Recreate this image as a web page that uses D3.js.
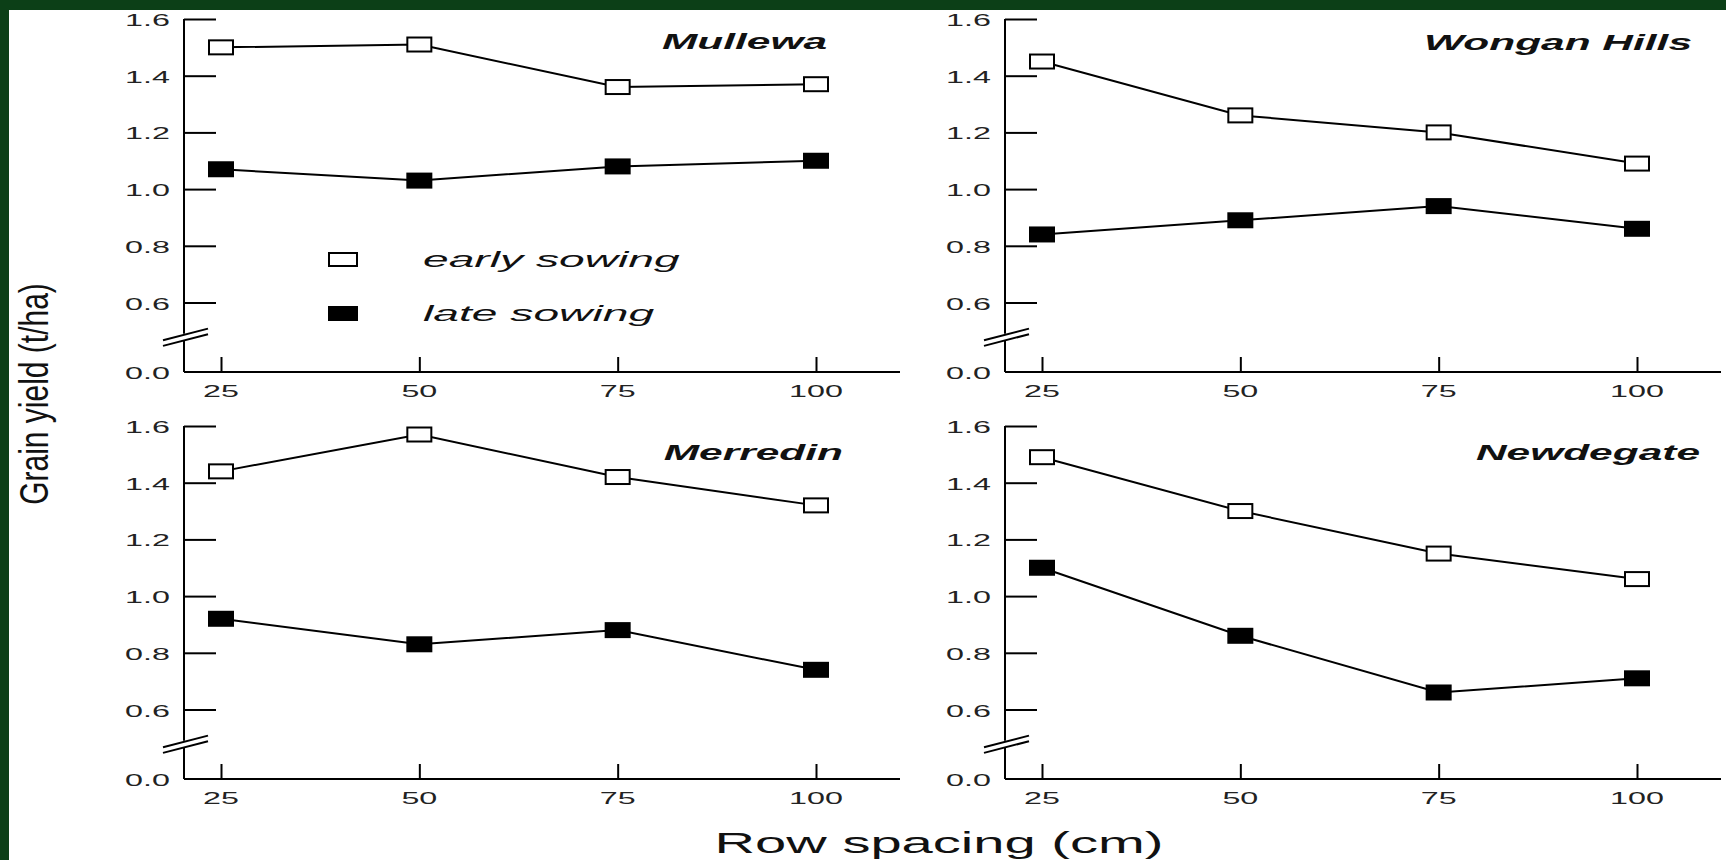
<!DOCTYPE html>
<html>
<head>
<meta charset="utf-8">
<script src="https://cdn.jsdelivr.net/npm/d3@7"></script>
<style>
  html, body { margin: 0; padding: 0; background: #0c3f17; }
  svg { display: block; }
  text { font-family: "Liberation Sans", Arial, sans-serif; }
</style>
</head>
<body>
<svg id="chart" width="1726" height="860"></svg>
<script>
// Row spacing treatments (cm) and y-axis tick values (t/ha)
const rowSpacing = [25, 50, 75, 100];
const yTickValues = [0, 0.6, 0.8, 1.0, 1.2, 1.4, 1.6];
const sites = ["Mullewa", "Wongan Hills", "Merredin", "Newdegate"];

// Grain yield (t/ha) per site, early and late sowing
const mullewaEarly = [1.50, 1.51, 1.36, 1.37];
const mullewaLate = [1.07, 1.03, 1.08, 1.10];
const wonganEarly = [1.45, 1.26, 1.20, 1.09];
const wonganLate = [0.84, 0.89, 0.94, 0.86];
const merredinEarly = [1.44, 1.57, 1.42, 1.32];
const merredinLate = [0.92, 0.83, 0.88, 0.74];
const newdegateEarly = [1.49, 1.30, 1.15, 1.06];
const newdegateLate = [1.10, 0.86, 0.66, 0.71];

const seriesNames = ["early sowing", "late sowing"];

// Panel placement
const panels = [
  { site: sites[0], early: mullewaEarly, late: mullewaLate, x0: 184, base: 372, titleX: 827, titleY: 49, legend: true },
  { site: sites[1], early: wonganEarly, late: wonganLate, x0: 1005, base: 372, titleX: 1692, titleY: 50 },
  { site: sites[2], early: merredinEarly, late: merredinLate, x0: 184, base: 779, titleX: 843, titleY: 460 },
  { site: sites[3], early: newdegateEarly, late: newdegateLate, x0: 1005, base: 779, titleX: 1700, titleY: 460 }
];

const svg = d3.select("#chart");

// Background: green slide with a white figure area
svg.append("rect").attr("width", 1726).attr("height", 860).attr("fill", "#0c3f17");
svg.append("rect").attr("x", 9).attr("y", 10).attr("width", 1717).attr("height", 850).attr("fill", "#ffffff");

// Horizontally stretched text helper
function stretched(g, str, x, y, sx, opts) {
  const t = g.append("text")
    .attr("transform", `translate(${x},${y}) scale(${sx},1)`)
    .attr("x", 0).attr("y", 0)
    .attr("text-anchor", opts.anchor || "start")
    .attr("font-size", opts.size)
    .attr("fill", opts.fill || "#111")
    .text(str);
  if (opts.weight) t.attr("font-weight", opts.weight);
  if (opts.style) t.attr("font-style", opts.style);
  return t;
}

const AXIS_LEN = 716;
const TXT_SX = 1.9;

panels.forEach(p => {
  const g = svg.append("g");
  const x = d3.scaleLinear().domain([25, 100]).range([p.x0 + 37, p.x0 + 632]);
  // broken y axis: 0.0 at the base, 0.6–1.6 above the break
  const y = d3.scaleLinear().domain([0, 0.6, 1.6]).range([p.base, p.base - 69.5, p.base - 353]);

  const yBreak = (y(0) + y(0.6)) / 2;

  // y axis line, interrupted at the break
  g.append("line").attr("x1", p.x0).attr("x2", p.x0)
    .attr("y1", y(1.6)).attr("y2", yBreak - 3.5)
    .attr("stroke", "#000").attr("stroke-width", 2);
  g.append("line").attr("x1", p.x0).attr("x2", p.x0)
    .attr("y1", yBreak + 3.5).attr("y2", y(0))
    .attr("stroke", "#000").attr("stroke-width", 2);
  // break marks
  [-2.8, 2.8].forEach(off => {
    g.append("line")
      .attr("x1", p.x0 - 21).attr("y1", yBreak + off + 5.8)
      .attr("x2", p.x0 + 24).attr("y2", yBreak + off - 5.8)
      .attr("stroke", "#000").attr("stroke-width", 2);
  });

  // y ticks (inward) and labels
  const yAxis = d3.axisRight(y).tickValues(yTickValues.filter(v => v > 0)).tickSize(32).tickFormat("");
  const ya = g.append("g").attr("transform", `translate(${p.x0},0)`).call(yAxis);
  ya.select(".domain").remove();
  ya.selectAll(".tick line").attr("stroke", "#000").attr("stroke-width", 2);
  yTickValues.forEach(v => {
    stretched(g, d3.format(".1f")(v), p.x0 - 14, y(v) + 7, TXT_SX, { anchor: "end", size: 17, fill: "#222" });
  });

  // x axis line
  g.append("line").attr("x1", p.x0).attr("x2", p.x0 + AXIS_LEN)
    .attr("y1", p.base).attr("y2", p.base)
    .attr("stroke", "#000").attr("stroke-width", 2);
  // x ticks (inward) and labels
  const xAxis = d3.axisTop(x).tickValues(rowSpacing).tickSize(15).tickFormat("");
  const xa = g.append("g").attr("transform", `translate(0,${p.base})`).call(xAxis);
  xa.select(".domain").remove();
  xa.selectAll(".tick line").attr("stroke", "#000").attr("stroke-width", 2);
  rowSpacing.forEach(v => {
    stretched(g, String(v), x(v), p.base + 25, TXT_SX, { anchor: "middle", size: 17, fill: "#222" });
  });

  // series lines
  const line = d3.line().x((d, i) => x(rowSpacing[i])).y(d => y(d));
  [p.early, p.late].forEach(vals => {
    g.append("path").datum(vals).attr("d", line)
      .attr("fill", "none").attr("stroke", "#000").attr("stroke-width", 2);
  });

  // markers
  const MW = 24, MH = 14;
  g.selectAll(".early").data(p.early).enter().append("rect")
    .attr("x", (d, i) => x(rowSpacing[i]) - MW / 2)
    .attr("y", d => y(d) - MH / 2)
    .attr("width", MW).attr("height", MH)
    .attr("fill", "#fff").attr("stroke", "#000").attr("stroke-width", 2);
  g.selectAll(".late").data(p.late).enter().append("rect")
    .attr("x", (d, i) => x(rowSpacing[i]) - MW / 2)
    .attr("y", d => y(d) - MH / 2)
    .attr("width", MW).attr("height", MH)
    .attr("fill", "#000").attr("stroke", "#000").attr("stroke-width", 2);

  // site title
  stretched(g, p.site, p.titleX, p.titleY, 1.93, { anchor: "end", size: 22, weight: "bold", style: "italic", fill: "#111" });

  // legend
  if (p.legend) {
    const lx = 343, ly = [259.5, 313.5];
    seriesNames.forEach((name, i) => {
      g.append("rect").attr("x", lx - 14).attr("y", ly[i] - 6.5)
        .attr("width", 28).attr("height", 13)
        .attr("fill", i === 0 ? "#fff" : "#000")
        .attr("stroke", "#000").attr("stroke-width", 2);
      stretched(g, name, 423, ly[i] + 7.5, 2.1, { anchor: "start", size: 22, style: "italic", fill: "#111" });
    });
  }
});

// Axis titles
svg.append("text")
  .attr("transform", "translate(939,853) scale(1.87,1)")
  .attr("text-anchor", "middle")
  .attr("font-size", 30)
  .attr("fill", "#111")
  .text("Row spacing (cm)");

svg.append("text")
  .attr("transform", "translate(48,394) rotate(-90) scale(1,1.35)")
  .attr("text-anchor", "middle")
  .attr("font-size", 30)
  .attr("fill", "#111")
  .text("Grain yield (t/ha)");
</script>
</body>
</html>
